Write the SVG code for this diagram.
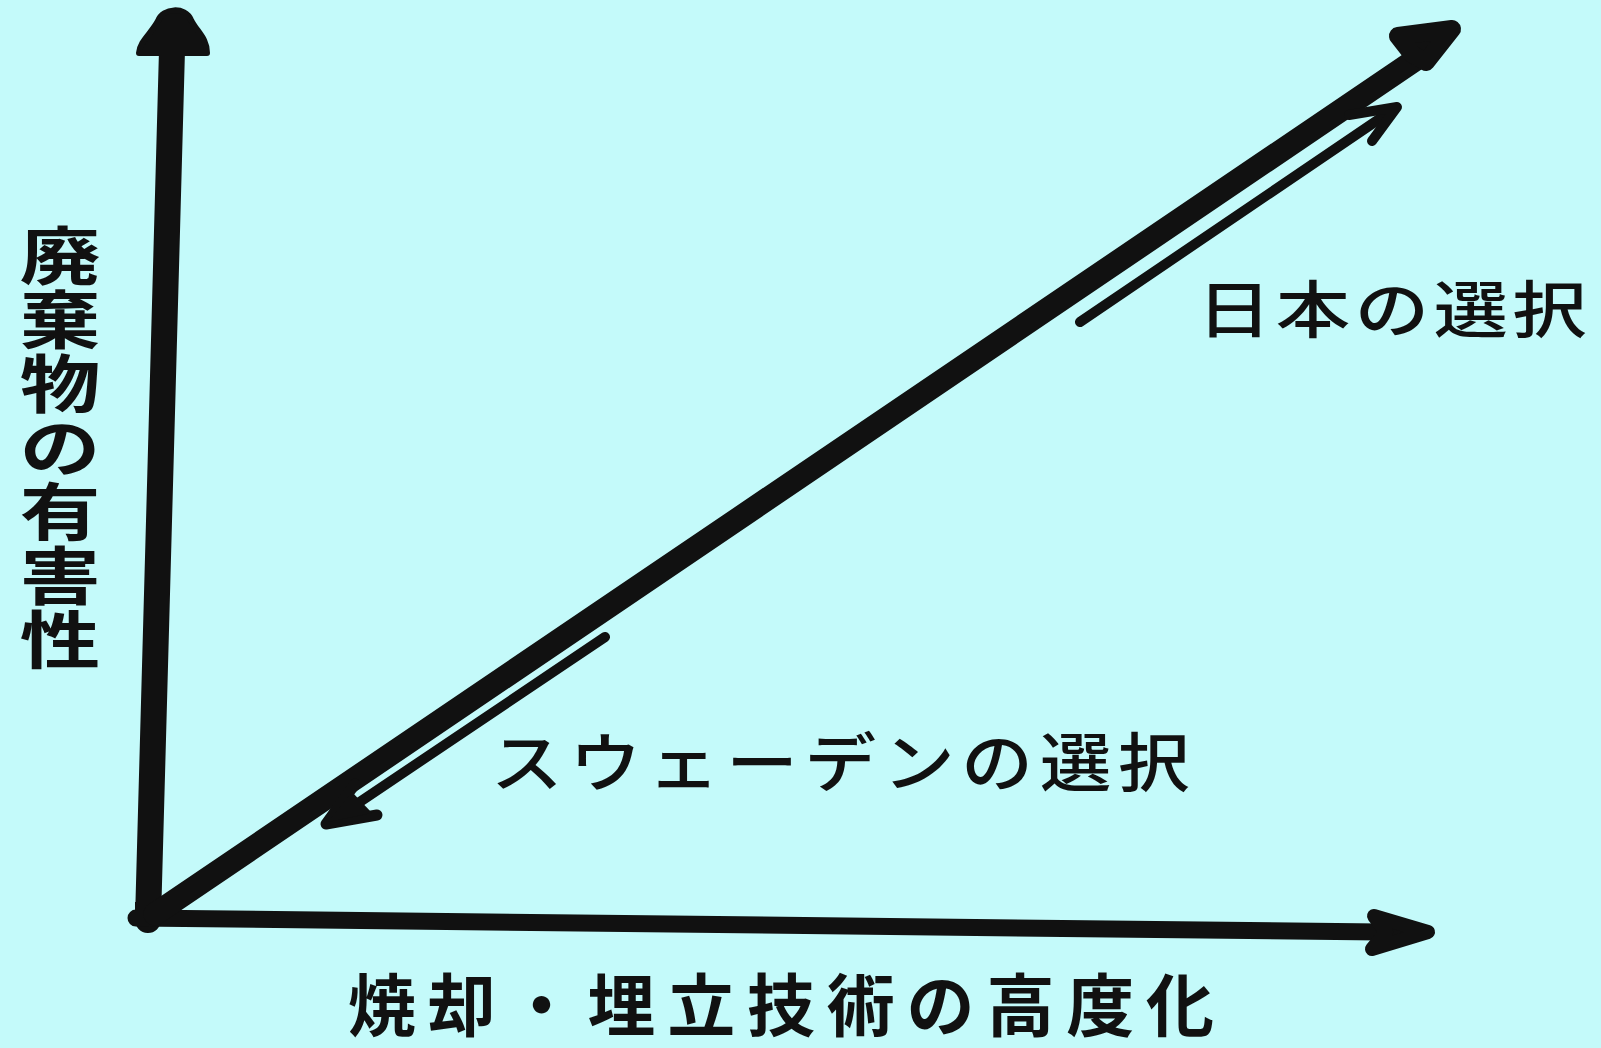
<svg xmlns="http://www.w3.org/2000/svg" width="1601" height="1048" viewBox="0 0 1601 1048">
<style>
.ink{fill:none;stroke:#111;stroke-linecap:round;stroke-linejoin:round}
.head{fill:#111;stroke:#111;stroke-linejoin:round}
.jp{font-family:"Noto Sans CJK JP","Noto Sans CJK SC",sans-serif;fill:#111}
</style>
<rect x="0" y="0" width="1601" height="1048" fill="#c4fafa"/>
<g id="connectors">
  <!-- vertical axis -->
  <line class="ink" x1="148" y1="920" x2="172" y2="50" stroke-width="26" stroke-linecap="butt"/>
  <path class="head" stroke-width="6" d="M139,53 C140,41 151,34 158,21 C163,8 185,6 191,20 C197,32 207,38 207,53 Z"/>
  <!-- horizontal axis -->
  <line class="ink" x1="136" y1="918" x2="1380" y2="932" stroke-width="17" stroke-linecap="butt"/>
  <polygon class="head" stroke-width="14" points="1428,932 1374,916 1386,932 1372,949"/>
  <!-- corner -->
  <polygon fill="#111" points="135,902 162,902 160,926 135,926"/>
  <!-- main diagonal -->
  <line class="ink" x1="155" y1="914" x2="1415" y2="60" stroke-width="23" stroke-linecap="butt"/>
  <polygon class="head" stroke-width="18" points="1452,29 1398,36 1412,54 1426,62"/>
  <!-- Japan arrow -->
  <line class="ink" x1="1080" y1="322" x2="1394" y2="109" stroke-width="10"/>
  <polyline class="ink" stroke-width="10" points="1349,115 1397,107 1372,141"/>
  <!-- Sweden arrow -->
  <line class="ink" x1="605" y1="637" x2="330" y2="822" stroke-width="10"/>
  <polyline class="ink" stroke-width="11" points="355,784 326,824 377,815"/>
  <polygon fill="#111" points="328,822 372,813 352,792"/>
</g>
<g id="label-y" class="jp" font-size="63" font-weight="700" text-anchor="middle">
  <g transform="translate(60,0) scale(1.28,1)">
    <text x="0" y="279">廃</text>
    <text x="0" y="343">棄</text>
    <text x="0" y="407">物</text>
    <text x="0" y="471">の</text>
    <text x="0" y="535">有</text>
    <text x="0" y="599">害</text>
    <text x="0" y="663">性</text>
  </g>
</g>
<g id="label-x">
  <text class="jp" x="348" y="1031" font-size="68" font-weight="700" textLength="866" lengthAdjust="spacing">焼却・埋立技術の高度化</text>
</g>
<g id="label-japan">
  <text class="jp" transform="translate(1197,333) scale(1.2,1)" x="0" y="0" font-size="62" font-weight="500" letter-spacing="3.7">日本の選択</text>
</g>
<g id="label-sweden">
  <text class="jp" transform="translate(491,786) scale(1.12,1)" x="0" y="0" font-size="64" font-weight="500" letter-spacing="6">スウェーデンの選択</text>
</g>
</svg>
